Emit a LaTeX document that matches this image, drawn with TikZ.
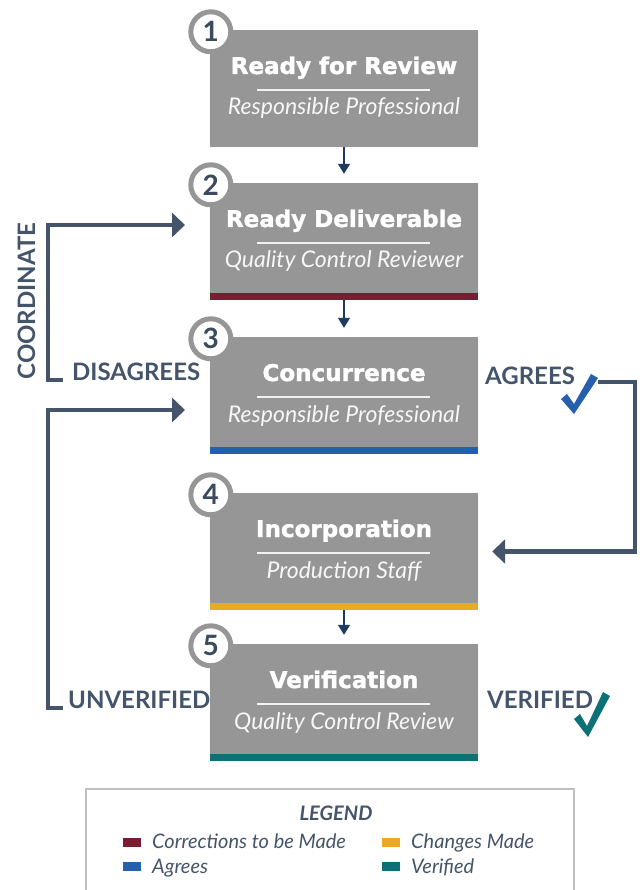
\documentclass[tikz,border=0pt]{standalone}
\usepackage{fontspec}
\setmainfont{Lato}
\newfontfamily\headfont{DejaVu Sans}[BoldFeatures={FakeBold=1.6}]
\usetikzlibrary{arrows.meta,positioning}

\definecolor{boxgray}{HTML}{969696}
\definecolor{crimson}{HTML}{7A1C32}
\definecolor{agreeblue}{HTML}{2660AC}
\definecolor{changeyellow}{HTML}{EBAA22}
\definecolor{verifyteal}{HTML}{0B7176}
\definecolor{slate}{HTML}{44546A}
\definecolor{navy}{HTML}{1F3A5F}
\definecolor{numtext}{HTML}{3B4A5D}

\tikzset{
  stage/.style={shape=rectangle, fill=boxgray, minimum width=268pt, minimum height=117pt, inner sep=0pt},
  title/.style={anchor=base, inner sep=0pt, text=white, font=\headfont\bfseries\fontsize{23}{26}\selectfont},
  role/.style={anchor=base, inner sep=0pt, text=white!94!gray, font=\itshape\fontsize{23}{27}\selectfont},
  rule/.style={draw=white!90!gray, line width=1.5pt},
  badge/.style={shape=circle, draw=boxgray, line width=5pt, fill=white, minimum size=40pt, inner sep=0pt, text=numtext, font=\bfseries\fontsize{28}{28}\selectfont},
  flow/.style={-{Triangle[length=10pt,width=12pt]}, draw=navy, line width=1.3pt, shorten >=9pt},
  route/.style={-{Triangle[length=13pt,width=24pt]}, draw=slate, line width=4.5pt},
  tag/.style={anchor=base west, inner sep=0pt, text=slate, font=\bfseries\fontsize{24}{28}\selectfont},
  key/.style={anchor=base west, inner sep=0pt, text=slate, font=\itshape\fontsize{20}{23}\selectfont},
}

\begin{document}
\begin{tikzpicture}[x=1pt, y=-1pt]
    \useasboundingbox (0,0) rectangle (641,890);

    % stages
    \node[stage] (review) at (344,88.5) {};
    \node[stage] (deliver) at (344,241.5) {};
    \node[stage] (concur) at (344,395.5) {};
    \node[stage] (incorp) at (344,551.5) {};
    \node[stage] (verify) at (344,702.5) {};

    \fill[crimson] ([yshift=7pt]deliver.south west) rectangle (deliver.south east);
    \fill[agreeblue] ([yshift=7pt]concur.south west) rectangle (concur.south east);
    \fill[changeyellow] ([yshift=7pt]incorp.south west) rectangle (incorp.south east);
    \fill[verifyteal] ([yshift=7pt]verify.south west) rectangle (verify.south east);

    \node[title] (reviewT) at (344,74) {Ready for Review};
    \draw[rule] (257,90) -- (430,90);
    \node[role] (reviewR) at (344,115) {Responsible Professional};

    \node[title] (deliverT) at (344,227) {Ready Deliverable};
    \draw[rule] (257,243) -- (430,243);
    \node[role] (deliverR) at (344,268) {Quality Control Reviewer};

    \node[title] (concurT) at (344,381) {Concurrence};
    \draw[rule] (257,397) -- (430,397);
    \node[role] (concurR) at (344,422) {Responsible Professional};

    \node[title] (incorpT) at (344,537) {Incorporation};
    \draw[rule] (257,553) -- (430,553);
    \node[role] (incorpR) at (344,578) {Production Staff};

    \node[title] (verifyT) at (344,688) {Verification};
    \draw[rule] (257,704) -- (430,704);
    \node[role] (verifyR) at (344,729) {Quality Control Review};

    % numbers
    \node[badge] (n1) at ([xshift=1pt,yshift=-2pt]review.north west) {1};
    \node[badge] (n2) at ([xshift=1pt,yshift=-2pt]deliver.north west) {2};
    \node[badge] (n3) at ([xshift=1pt,yshift=-2pt]concur.north west) {3};
    \node[badge] (n4) at ([xshift=1pt,yshift=-2pt]incorp.north west) {4};
    \node[badge] (n5) at ([xshift=1pt,yshift=-2pt]verify.north west) {5};

    \draw[flow] (review) -- (deliver);
    \draw[flow] (deliver) -- (concur);
    \draw[flow] (incorp) -- (verify);

    % loop labels
    \node[tag] (dis) at (72,380) {DISAGREES};
    \node[tag] (unv) at (68,708) {UNVERIFIED};
    \node[tag] (agr) at (485,384) {AGREES};
    \node[tag] (ver) at (487,708) {VERIFIED};
    \node[tag, anchor=base, rotate=90] (coord) at (35,301) {COORDINATE};

    \coordinate[left=9pt of dis.base west] (disEnd);
    \coordinate[left=5pt of unv.base west] (unvEnd);
    \coordinate (deliverIn) at (185,225);
    \coordinate (concurIn) at (185,410);
    \coordinate (agrEnd) at (598,382);

    \draw[route] (disEnd) -- (48,380) |- (deliverIn);
    \draw[route] (unvEnd) -- (48,708) |- (concurIn);
    \draw[route] (agrEnd) -- (635,382) |- ([xshift=14pt]incorp.east);

    % check marks
    \fill[agreeblue] (567,394) -- (574,404) -- (591,374) -- (598,378) -- (574,414) -- (561,399) -- cycle;
    \fill[verifyteal] (580,714) -- (587,726) -- (603,692) -- (610,696) -- (588,737) -- (574,719) -- cycle;

    % legend
    \draw[draw=black!25, line width=1.5pt] (86,789) rectangle (574,900);
    \node[anchor=base, text=slate, font=\bfseries\itshape\fontsize{20}{23}\selectfont] (legend) at (336,820) {LEGEND};
    \fill[crimson] (123,838) rectangle (141,847);
    \node[key] (kCorr) at (152,848) {Corrections to be Made};
    \fill[changeyellow] (382,838) rectangle (400,847);
    \node[key] (kChange) at (411,848) {Changes Made};
    \fill[agreeblue] (123,862) rectangle (141,871);
    \node[key] (kAgree) at (152,873) {Agrees};
    \fill[verifyteal] (382,862) rectangle (400,871);
    \node[key] (kVer) at (411,873) {Verified};
\end{tikzpicture}
\end{document}
